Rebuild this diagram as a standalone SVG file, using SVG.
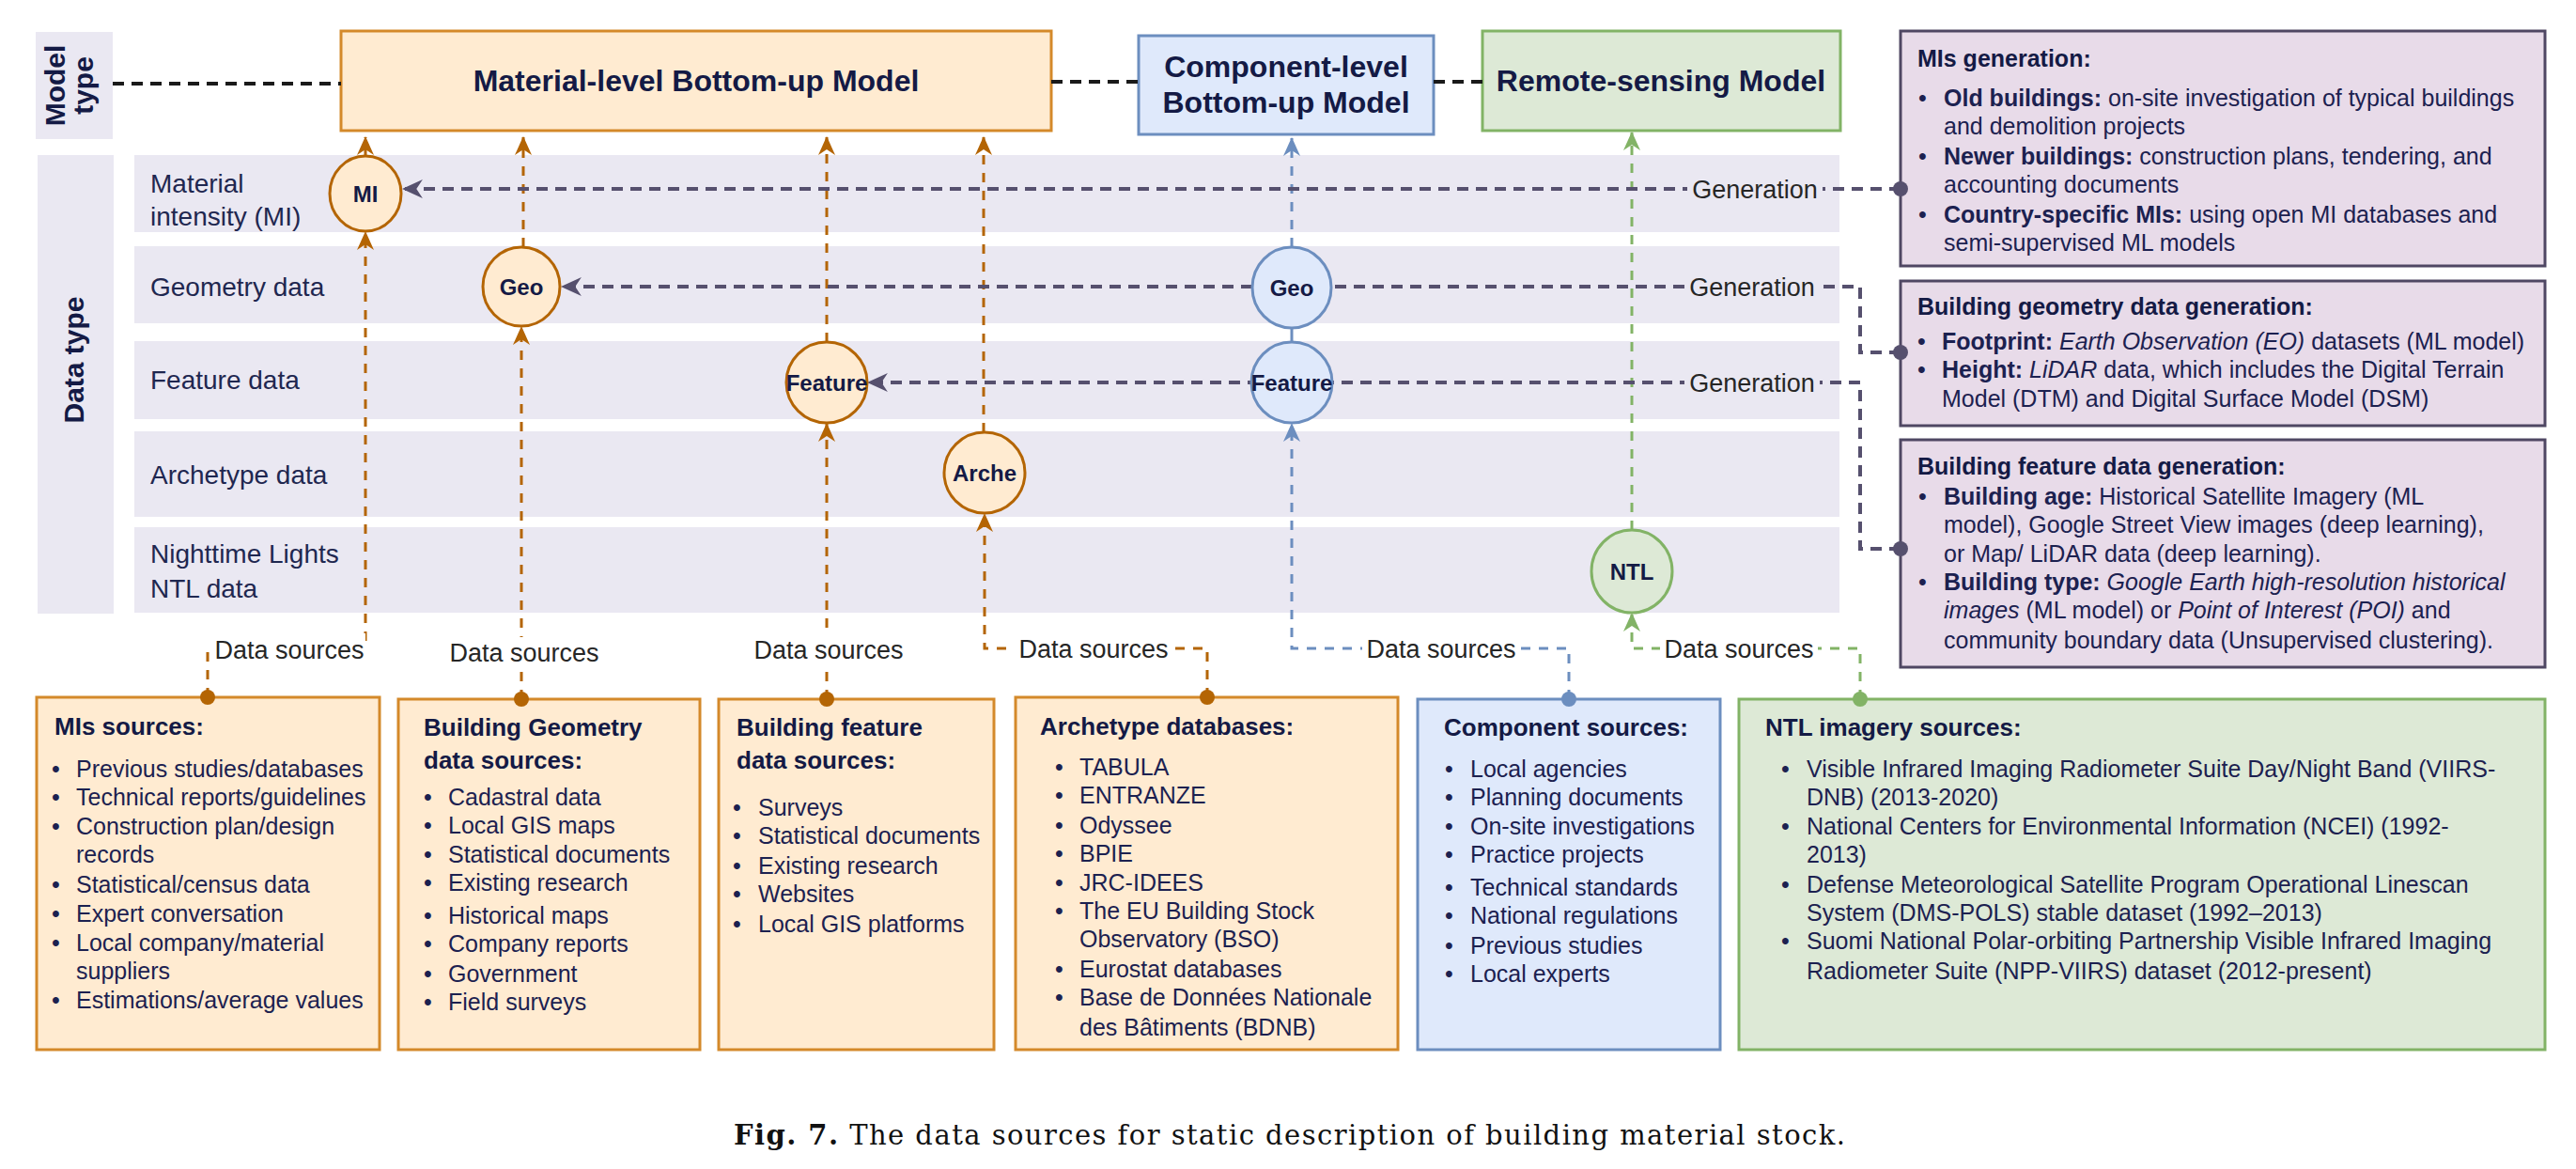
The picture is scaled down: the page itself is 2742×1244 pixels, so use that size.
<svg xmlns="http://www.w3.org/2000/svg" width="2742" height="1244" viewBox="0 0 2742 1244">
<defs>
<style>
text{font-family:"Liberation Sans",Arial,Helvetica,sans-serif}
.bg{fill:#eae8f2}
.ob{fill:#ffebd1;stroke:#d4892a;stroke-width:3}
.bb{fill:#dfe9fb;stroke:#6c8ebf;stroke-width:3}
.gb{fill:#dde9d6;stroke:#82b366;stroke-width:3}
.pb{fill:#e8dbe9;stroke:#4f4763;stroke-width:3}
.ti{font-size:32px;font-weight:bold;fill:#141a45;text-anchor:middle}
.side{font-size:30px;font-weight:bold;fill:#141a45;text-anchor:middle}
.rl{font-size:28px;fill:#1f2750}
.nd{font-size:24px;font-weight:bold;fill:#141a45;text-anchor:middle}
.cl{font-size:27px;fill:#262626;text-anchor:middle}
.hd{font-size:26px;font-weight:bold;fill:#141a45}
.bd{font-size:25px;fill:#1c2150}
.ph{font-size:25px;font-weight:bold;fill:#141a45}
.k{font-weight:bold}
.i{font-style:italic}
.co{fill:none;stroke:#b46504;stroke-width:3;stroke-dasharray:10 9}
.cb{fill:none;stroke:#6c8ebf;stroke-width:3;stroke-dasharray:10 9}
.cg{fill:none;stroke:#82b366;stroke-width:3;stroke-dasharray:10 9}
.cp{fill:none;stroke:#56506e;stroke-width:4;stroke-dasharray:12 8}
.ck{fill:none;stroke:#1a1a1a;stroke-width:4;stroke-dasharray:12 8}
</style>
<marker id="ao" viewBox="0 0 20 20" refX="19" refY="10" markerWidth="20" markerHeight="20" markerUnits="userSpaceOnUse" orient="auto"><path d="M0,1 L20,10 L0,19 L6,10 Z" fill="#b46504"/></marker>
<marker id="ab" viewBox="0 0 20 20" refX="19" refY="10" markerWidth="20" markerHeight="20" markerUnits="userSpaceOnUse" orient="auto"><path d="M0,1 L20,10 L0,19 L6,10 Z" fill="#6c8ebf"/></marker>
<marker id="ag" viewBox="0 0 20 20" refX="19" refY="10" markerWidth="20" markerHeight="20" markerUnits="userSpaceOnUse" orient="auto"><path d="M0,1 L20,10 L0,19 L6,10 Z" fill="#82b366"/></marker>
<marker id="ap" viewBox="0 0 20 20" refX="19" refY="10" markerWidth="22" markerHeight="22" markerUnits="userSpaceOnUse" orient="auto"><path d="M0,1 L20,10 L0,19 L6,10 Z" fill="#56506e"/></marker>
</defs>
<rect width="2742" height="1244" fill="#ffffff"/>

<g id="axis-labels">
<rect class="bg" x="38" y="34" width="82" height="114"/>
<text class="side" transform="translate(69,91) rotate(-90)">Model</text>
<text class="side" transform="translate(99,91) rotate(-90)">type</text>
<rect class="bg" x="40" y="165" width="81" height="488"/>
<text class="side" transform="translate(89,383) rotate(-90)">Data type</text>
</g>

<g id="rows">
<rect class="bg" x="143" y="165" width="1815" height="82"/>
<rect class="bg" x="143" y="262" width="1815" height="82"/>
<rect class="bg" x="143" y="363" width="1815" height="83"/>
<rect class="bg" x="143" y="459" width="1815" height="91"/>
<rect class="bg" x="143" y="561" width="1815" height="91"/>
<text class="rl" x="160" y="205">Material</text>
<text class="rl" x="160" y="240">intensity (MI)</text>
<text class="rl" x="160" y="315">Geometry data</text>
<text class="rl" x="160" y="414">Feature data</text>
<text class="rl" x="160" y="515">Archetype data</text>
<text class="rl" x="160" y="599">Nighttime Lights</text>
<text class="rl" x="160" y="636">NTL data</text>
</g>

<g id="model-material">
<rect class="ob" x="363" y="33" width="756" height="106"/>
<text class="ti" x="741" y="97">Material-level Bottom-up Model</text>
</g>
<g id="model-component">
<rect class="bb" x="1212" y="38" width="314" height="105"/>
<text class="ti" x="1369" y="82">Component-level</text>
<text class="ti" x="1369" y="120">Bottom-up Model</text>
</g>
<g id="model-remote">
<rect class="gb" x="1578" y="33" width="381" height="106"/>
<text class="ti" x="1768" y="97">Remote-sensing Model</text>
</g>

<g id="connectors">
<path class="ck" d="M120,89 H363"/>
<path class="ck" d="M1119,87 H1212"/>
<path class="ck" d="M1526,87 H1578"/>
<!-- to model boxes -->
<path class="co" d="M389,166 V146" marker-end="url(#ao)"/>
<path class="co" d="M557,263 V146" marker-end="url(#ao)"/>
<path class="co" d="M880,364 V146" marker-end="url(#ao)"/>
<path class="co" d="M1047,460 V146" marker-end="url(#ao)"/>
<path class="cb" d="M1375,263 V147" marker-end="url(#ab)"/>
<path class="cb" d="M1375,349 V364" style="stroke-dasharray:none"/>
<path class="cg" d="M1737,564 V141" marker-end="url(#ag)"/>
<!-- from sources -->
<path class="co" d="M221,742 V690 H389 V247" marker-end="url(#ao)"/>
<path class="co" d="M555,744 V348" marker-end="url(#ao)"/>
<path class="co" d="M880,744 V451" marker-end="url(#ao)"/>
<path class="co" d="M1285,742 V690 H1048 V547" marker-end="url(#ao)"/>
<path class="cb" d="M1670,744 V690 H1375 V451" marker-end="url(#ab)"/>
<path class="cg" d="M1980,744 V690 H1737 V653" marker-end="url(#ag)"/>
<!-- generation -->
<path class="cp" d="M2023,201 H429" marker-end="url(#ap)"/>
<path class="cp" d="M2023,375 H1980 V305 H598" marker-end="url(#ap)"/>
<path class="cp" d="M2023,584 H1980 V407 H924" marker-end="url(#ap)"/>
<!-- labels -->
<rect x="226" y="674" width="163" height="33" fill="#ffffff"/>
<text class="cl" x="308" y="701">Data sources</text>
<rect x="476" y="678" width="165" height="33" fill="#ffffff"/>
<text class="cl" x="558" y="704">Data sources</text>
<rect x="799" y="674" width="165" height="33" fill="#ffffff"/>
<text class="cl" x="882" y="701">Data sources</text>
<rect x="1080" y="674" width="168" height="33" fill="#ffffff"/>
<text class="cl" x="1164" y="700">Data sources</text>
<rect x="1450" y="674" width="168" height="33" fill="#ffffff"/>
<text class="cl" x="1534" y="700">Data sources</text>
<rect x="1767" y="674" width="168" height="33" fill="#ffffff"/>
<text class="cl" x="1851" y="700">Data sources</text>
<rect x="1796" y="186" width="144" height="32" class="bg"/>
<text class="cl" x="1868" y="211">Generation</text>
<rect x="1793" y="290" width="144" height="32" class="bg"/>
<text class="cl" x="1865" y="315">Generation</text>
<rect x="1793" y="392" width="144" height="32" class="bg"/>
<text class="cl" x="1865" y="417">Generation</text>
</g>

<g id="node-mi"><ellipse cx="389" cy="206" rx="38" ry="40" fill="#ffebd1" stroke="#b46504" stroke-width="3"/><text class="nd" x="389" y="215">MI</text></g>
<g id="node-geo-m"><ellipse cx="555" cy="305" rx="41" ry="42" fill="#ffebd1" stroke="#b46504" stroke-width="3"/><text class="nd" x="555" y="314">Geo</text></g>
<g id="node-feature-m"><ellipse cx="880" cy="407" rx="43" ry="43" fill="#ffebd1" stroke="#b46504" stroke-width="3"/><text class="nd" x="880" y="416">Feature</text></g>
<g id="node-arche"><ellipse cx="1048" cy="503" rx="43" ry="43" fill="#ffebd1" stroke="#b46504" stroke-width="3"/><text class="nd" x="1048" y="512">Arche</text></g>
<g id="node-geo-c"><ellipse cx="1375" cy="306" rx="42" ry="43" fill="#dfe9fb" stroke="#6c8ebf" stroke-width="3"/><text class="nd" x="1375" y="315">Geo</text></g>
<g id="node-feature-c"><ellipse cx="1375" cy="407" rx="43" ry="43" fill="#dfe9fb" stroke="#6c8ebf" stroke-width="3"/><text class="nd" x="1375" y="416">Feature</text></g>
<g id="node-ntl"><ellipse cx="1737" cy="608" rx="43" ry="44" fill="#dde9d6" stroke="#82b366" stroke-width="3"/><text class="nd" x="1737" y="617">NTL</text></g>

<g id="gen-mi">
<rect class="pb" x="2023" y="33" width="686" height="250"/>
<text class="ph" x="2041" y="71">MIs generation:</text>
<text class="bd" x="2042" y="113">•</text><text class="bd" x="2069" y="113"><tspan class="k">Old buildings:</tspan> on-site investigation of typical buildings</text>
<text class="bd" x="2069" y="143">and demolition projects</text>
<text class="bd" x="2042" y="175">•</text><text class="bd" x="2069" y="175"><tspan class="k">Newer buildings:</tspan> construction plans, tendering, and</text>
<text class="bd" x="2069" y="205">accounting documents</text>
<text class="bd" x="2042" y="237">•</text><text class="bd" x="2069" y="237"><tspan class="k">Country-specific MIs:</tspan> using open MI databases and</text>
<text class="bd" x="2069" y="267">semi-supervised ML models</text>
</g>
<g id="gen-geometry">
<rect class="pb" x="2023" y="299" width="686" height="154"/>
<text class="ph" x="2041" y="335">Building geometry data generation:</text>
<text class="bd" x="2041" y="372">•</text><text class="bd" x="2067" y="372"><tspan class="k">Footprint:</tspan> <tspan class="i">Earth Observation (EO)</tspan> datasets (ML model)</text>
<text class="bd" x="2041" y="402">•</text><text class="bd" x="2067" y="402"><tspan class="k">Height:</tspan> <tspan class="i">LiDAR</tspan> data, which includes the Digital Terrain</text>
<text class="bd" x="2067" y="433">Model (DTM) and Digital Surface Model (DSM)</text>
</g>
<g id="gen-feature">
<rect class="pb" x="2023" y="468" width="686" height="242"/>
<text class="ph" x="2041" y="505">Building feature data generation:</text>
<text class="bd" x="2042" y="537">•</text><text class="bd" x="2069" y="537"><tspan class="k">Building age:</tspan> Historical Satellite Imagery (ML</text>
<text class="bd" x="2069" y="567">model), Google Street View images (deep learning),</text>
<text class="bd" x="2069" y="598">or Map/ LiDAR data (deep learning).</text>
<text class="bd" x="2042" y="628">•</text><text class="bd" x="2069" y="628"><tspan class="k">Building type:</tspan> <tspan class="i">Google Earth high-resolution historical</tspan></text>
<text class="bd" x="2069" y="658"><tspan class="i">images</tspan> (ML model) or <tspan class="i">Point of Interest (POI)</tspan> and</text>
<text class="bd" x="2069" y="690">community boundary data (Unsupervised clustering).</text>
</g>
<g id="gen-dots" fill="#56506e">
<circle cx="2023" cy="201" r="8"/><circle cx="2023" cy="375" r="8"/><circle cx="2023" cy="584" r="8"/>
</g>

<g id="src-mi">
<rect class="ob" x="39" y="742" width="365" height="375"/>
<text class="hd" x="58" y="782">MIs sources:</text>
<g class="bd">
<text x="55" y="827">•</text><text x="81" y="827">Previous studies/databases</text>
<text x="55" y="857">•</text><text x="81" y="857">Technical reports/guidelines</text>
<text x="55" y="888">•</text><text x="81" y="888">Construction plan/design</text>
<text x="81" y="918">records</text>
<text x="55" y="950">•</text><text x="81" y="950">Statistical/census data</text>
<text x="55" y="981">•</text><text x="81" y="981">Expert conversation</text>
<text x="55" y="1012">•</text><text x="81" y="1012">Local company/material</text>
<text x="81" y="1042">suppliers</text>
<text x="55" y="1073">•</text><text x="81" y="1073">Estimations/average values</text>
</g>
</g>
<g id="src-geometry">
<rect class="ob" x="424" y="744" width="321" height="373"/>
<text class="hd" x="451" y="783">Building Geometry</text>
<text class="hd" x="451" y="818">data sources:</text>
<g class="bd">
<text x="451" y="857">•</text><text x="477" y="857">Cadastral data</text>
<text x="451" y="887">•</text><text x="477" y="887">Local GIS maps</text>
<text x="451" y="918">•</text><text x="477" y="918">Statistical documents</text>
<text x="451" y="948">•</text><text x="477" y="948">Existing research</text>
<text x="451" y="983">•</text><text x="477" y="983">Historical maps</text>
<text x="451" y="1013">•</text><text x="477" y="1013">Company reports</text>
<text x="451" y="1045">•</text><text x="477" y="1045">Government</text>
<text x="451" y="1075">•</text><text x="477" y="1075">Field surveys</text>
</g>
</g>
<g id="src-feature">
<rect class="ob" x="765" y="744" width="293" height="373"/>
<text class="hd" x="784" y="783">Building feature</text>
<text class="hd" x="784" y="818">data sources:</text>
<g class="bd">
<text x="780" y="868">•</text><text x="807" y="868">Surveys</text>
<text x="780" y="898">•</text><text x="807" y="898">Statistical documents</text>
<text x="780" y="930">•</text><text x="807" y="930">Existing research</text>
<text x="780" y="960">•</text><text x="807" y="960">Websites</text>
<text x="780" y="992">•</text><text x="807" y="992">Local GIS platforms</text>
</g>
</g>
<g id="src-archetype">
<rect class="ob" x="1081" y="742" width="407" height="375"/>
<text class="hd" x="1107" y="782">Archetype databases:</text>
<g class="bd">
<text x="1123" y="825">•</text><text x="1149" y="825">TABULA</text>
<text x="1123" y="855">•</text><text x="1149" y="855">ENTRANZE</text>
<text x="1123" y="887">•</text><text x="1149" y="887">Odyssee</text>
<text x="1123" y="917">•</text><text x="1149" y="917">BPIE</text>
<text x="1123" y="948">•</text><text x="1149" y="948">JRC-IDEES</text>
<text x="1123" y="978">•</text><text x="1149" y="978">The EU Building Stock</text>
<text x="1149" y="1008">Observatory (BSO)</text>
<text x="1123" y="1040">•</text><text x="1149" y="1040">Eurostat databases</text>
<text x="1123" y="1070">•</text><text x="1149" y="1070">Base de Données Nationale</text>
<text x="1149" y="1102">des Bâtiments (BDNB)</text>
</g>
</g>
<g id="src-component">
<rect class="bb" x="1509" y="744" width="322" height="373"/>
<text class="hd" x="1537" y="783">Component sources:</text>
<g class="bd">
<text x="1538" y="827">•</text><text x="1565" y="827">Local agencies</text>
<text x="1538" y="857">•</text><text x="1565" y="857">Planning documents</text>
<text x="1538" y="888">•</text><text x="1565" y="888">On-site investigations</text>
<text x="1538" y="918">•</text><text x="1565" y="918">Practice projects</text>
<text x="1538" y="953">•</text><text x="1565" y="953">Technical standards</text>
<text x="1538" y="983">•</text><text x="1565" y="983">National regulations</text>
<text x="1538" y="1015">•</text><text x="1565" y="1015">Previous studies</text>
<text x="1538" y="1045">•</text><text x="1565" y="1045">Local experts</text>
</g>
</g>
<g id="src-ntl">
<rect class="gb" x="1851" y="744" width="858" height="373"/>
<text class="hd" x="1879" y="783">NTL imagery sources:</text>
<g class="bd">
<text x="1896" y="827">•</text><text x="1923" y="827">Visible Infrared Imaging Radiometer Suite Day/Night Band (VIIRS-</text>
<text x="1923" y="857">DNB) (2013-2020)</text>
<text x="1896" y="888">•</text><text x="1923" y="888">National Centers for Environmental Information (NCEI) (1992-</text>
<text x="1923" y="918">2013)</text>
<text x="1896" y="950">•</text><text x="1923" y="950">Defense Meteorological Satellite Program Operational Linescan</text>
<text x="1923" y="980">System (DMS-POLS) stable dataset (1992–2013)</text>
<text x="1896" y="1010">•</text><text x="1923" y="1010">Suomi National Polar-orbiting Partnership Visible Infrared Imaging</text>
<text x="1923" y="1042">Radiometer Suite (NPP-VIIRS) dataset (2012-present)</text>
</g>
</g>
<g id="src-dots">
<circle cx="221" cy="742" r="8" fill="#b46504"/>
<circle cx="555" cy="744" r="8" fill="#b46504"/>
<circle cx="880" cy="744" r="8" fill="#b46504"/>
<circle cx="1285" cy="742" r="8" fill="#b46504"/>
<circle cx="1670" cy="744" r="8" fill="#6c8ebf"/>
<circle cx="1980" cy="744" r="8" fill="#82b366"/>
</g>

<text x="781" y="1218" textLength="1183" lengthAdjust="spacing" style="font-family:'DejaVu Serif','Liberation Serif',serif;font-size:29px;fill:#111"><tspan font-weight="bold">Fig. 7.</tspan>  The data sources for static description of building material stock.</text>
</svg>
